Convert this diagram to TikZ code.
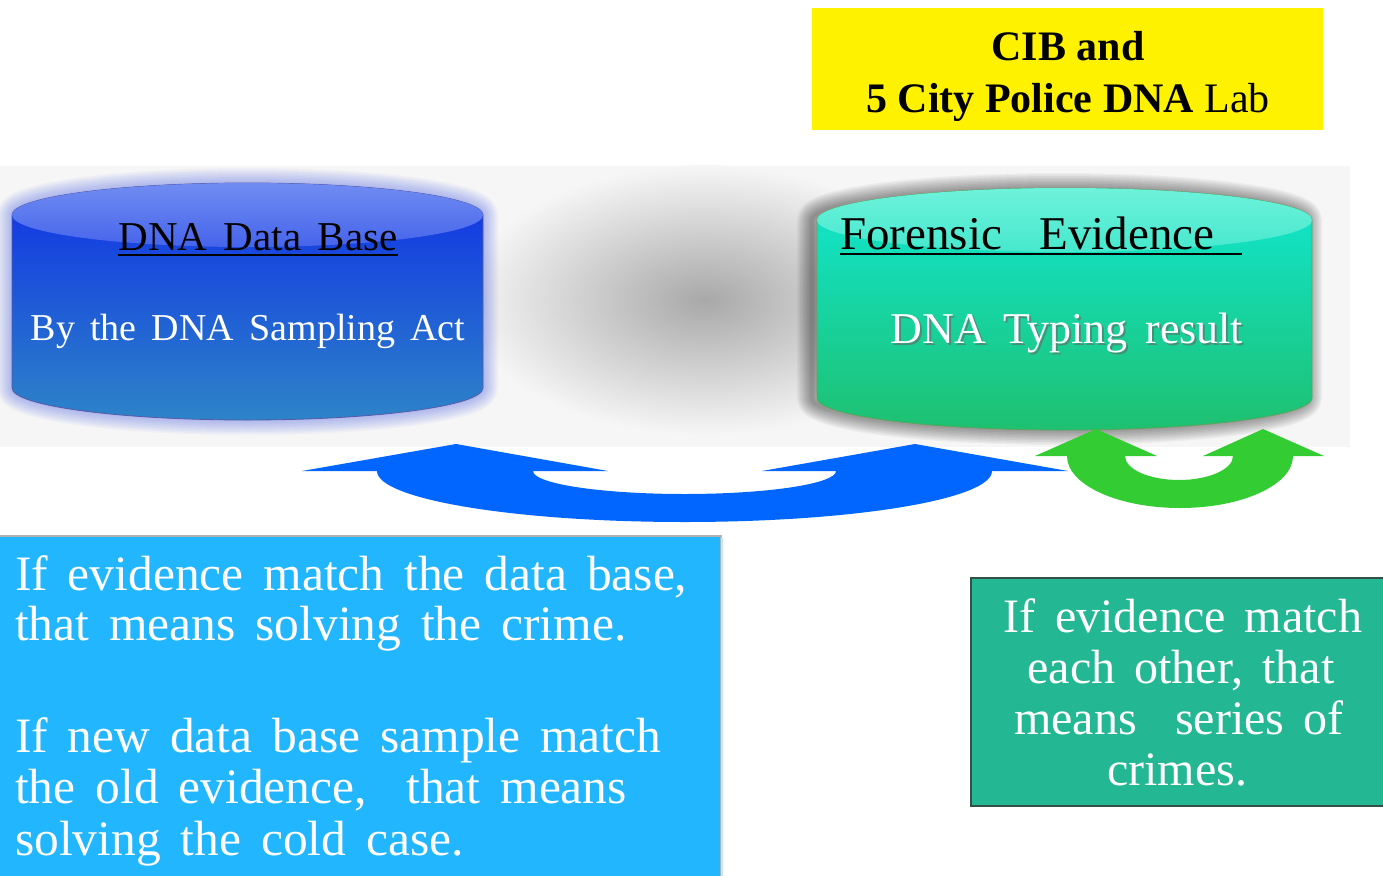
\documentclass[tikz,border=0pt]{standalone}
\usepackage{fontspec}
\setmainfont{Liberation Serif}
\newfontfamily\mono[WordSpace=1.6]{Liberation Serif}
\definecolor{stagegray}{RGB}{246,246,246}
\definecolor{arrowblue}{RGB}{0,102,255}
\definecolor{arrowgreen}{RGB}{51,204,51}
\definecolor{boxblue}{RGB}{34,182,255}
\definecolor{boxgreen}{RGB}{35,184,147}
\definecolor{boxgreenedge}{RGB}{50,80,70}
\definecolor{cylbluetop}{RGB}{16,48,230}
\definecolor{cylbluebot}{RGB}{45,132,200}
\definecolor{capbluetop}{RGB}{112,140,242}
\definecolor{capbluebot}{RGB}{70,100,235}
\definecolor{cylgreentop}{RGB}{16,232,210}
\definecolor{cylgreenbot}{RGB}{30,192,112}
\definecolor{capgreentop}{RGB}{110,242,220}
\definecolor{capgreenbot}{RGB}{70,232,205}
\definecolor{glowblue}{RGB}{30,60,230}
\tikzset{
  bodytxt/.style={font=\mono\fontsize{#1}{51}\selectfont, text=white, inner sep=0pt},
  bodytxt/.default=48,
  cyltitle/.style={font=\mono\fontsize{#1}{#1}\selectfont, text=black, inner sep=0pt},
  cylsub/.style={font=\mono\fontsize{#1}{#1}\selectfont, text=white, inner sep=0pt},
  labtxt/.style={font=\bfseries\fontsize{42}{48}\selectfont, text=black, inner sep=0pt},
  uline/.style={line width=2pt, black}
}
\begin{document}
\begin{tikzpicture}[x=1pt,y=-1pt]
\useasboundingbox (0,0) rectangle (1383,875);
\fill[white] (0,0) rectangle (1383,875);

% stage background and central shadow
\fill[stagegray] (0,166) rectangle (1350,447);
\shade[inner color=gray!68, outer color=stagegray] (705,300) ellipse [x radius=240, y radius=135];

% ---------- left cylinder (DNA Data Base) ----------
\foreach \i in {1,...,10}
  \draw[glowblue, opacity=0.035, line width=\i*3pt, line join=round]
    (12,215) -- (12,388) arc[start angle=180,end angle=0,x radius=235.5,y radius=32]
    -- (483,215) arc[start angle=0,end angle=-180,x radius=235.5,y radius=32] -- cycle;
\shade[top color=cylbluetop, bottom color=cylbluebot, draw=blue!30!gray, line width=0.8pt]
    (12,215) -- (12,388) arc[start angle=180,end angle=0,x radius=235.5,y radius=32]
    -- (483,215) arc[start angle=0,end angle=-180,x radius=235.5,y radius=32] -- cycle;
\shade[top color=capbluetop, bottom color=capbluebot]
    (247.5,215) ellipse [x radius=235.5, y radius=32];

% ---------- right cylinder (Forensic Evidence) ----------
\foreach \i in {1,...,10}
  \draw[black, opacity=0.045, line width=\i*3pt, line join=round, xshift=-5pt]
    (817,220) -- (817,398) arc[start angle=180,end angle=0,x radius=247.5,y radius=32]
    -- (1312,220) arc[start angle=0,end angle=-180,x radius=247.5,y radius=32] -- cycle;
\shade[top color=cylgreentop, bottom color=cylgreenbot, draw=green!30!gray, line width=0.8pt]
    (817,220) -- (817,398) arc[start angle=180,end angle=0,x radius=247.5,y radius=32]
    -- (1312,220) arc[start angle=0,end angle=-180,x radius=247.5,y radius=32] -- cycle;
\shade[top color=capgreentop, bottom color=capgreenbot]
    (1064.5,220) ellipse [x radius=247.5, y radius=32];

% cylinder labels
\node[cyltitle=41, anchor=base] (c1t) at (258,250) {DNA Data Base};
\draw[uline] ([yshift=-5pt]c1t.base west) -- ([yshift=-5pt]c1t.base east);
\node[cylsub=38, anchor=base] (c1s) at (248,340) {By the DNA Sampling Act};

\node[cyltitle=47, anchor=base west] (c2t) at (840,249) {Forensic\ \ Evidence};
\draw[uline] ([yshift=-5pt]c2t.base west) -- ([xshift=27pt,yshift=-5pt]c2t.base east);
\node[cylsub=44, anchor=base, text=black!60, opacity=0.6] (c2shadow) at (1069,345) {DNA Typing result};
\node[cylsub=44, anchor=base] (c2s) at (1067,343) {DNA Typing result};

% ---------- yellow label ----------
\node[fill=yellow, minimum width=511pt, minimum height=122pt, inner sep=0pt] (lab) at (1067.5,69) {};
\node[labtxt, anchor=base] (y1) at (1068,60) {CIB and};
\node[labtxt, anchor=base] (y2) at (1068,112) {5 City Police DNA \mdseries Lab};

% ---------- blue U-turn arrow ----------
\fill[arrowblue] (302,471) -- (456,444) -- (608,471) -- (533,471)
   arc[start angle=180,end angle=0,x radius=151.5,y radius=23]
   -- (762,471) -- (915,444) -- (1068,471) -- (992,471)
   arc[start angle=0,end angle=180,x radius=307.5,y radius=51] -- cycle;

% ---------- green U-turn arrow ----------
\fill[arrowgreen] (1035,456) -- (1096,429) -- (1157,456) -- (1125,456)
   arc[start angle=180,end angle=0,x radius=54,y radius=24]
   -- (1203,456) -- (1263,429) -- (1324,456) -- (1293,456)
   arc[start angle=0,end angle=180,x radius=113,y radius=52] -- cycle;

% ---------- left text box ----------
\node[fill=boxblue, draw=gray!60, line width=1.5pt, minimum width=724pt, minimum height=345pt, inner sep=0pt, anchor=north west] (lbox) at (-4,535) {};
\draw[white!70!boxblue, line width=2pt] ([yshift=-2pt]lbox.north east) -- (lbox.south east);
\node[bodytxt=49.5, anchor=base west] (l1) at (15,590) {If evidence match the data base,};
\node[bodytxt=49.5, anchor=base west] (l2) at (15,640) {that means solving the crime.};
\node[bodytxt=49.5, anchor=base west] (l3) at (15,752) {If new data base sample match};
\node[bodytxt=49.5, anchor=base west] (l4) at (15,803) {the old evidence,\ \ that means};
\node[bodytxt=49.5, anchor=base west] (l5) at (15,855) {solving the cold case.};

% ---------- right text box ----------
\node[fill=boxgreen, draw=boxgreenedge, line width=2pt, minimum width=430pt, minimum height=228pt, inner sep=0pt, anchor=north west] (rbox) at (970,577) {};
\node[bodytxt, anchor=base] (r1) at (1183,632) {If evidence match};
\node[bodytxt, anchor=base] (r2) at (1181,683) {each other, that};
\node[bodytxt, anchor=base] (r3) at (1179,734) {means\ \ series of};
\node[bodytxt, anchor=base] (r4) at (1177,785) {crimes.};
\end{tikzpicture}
\end{document}
